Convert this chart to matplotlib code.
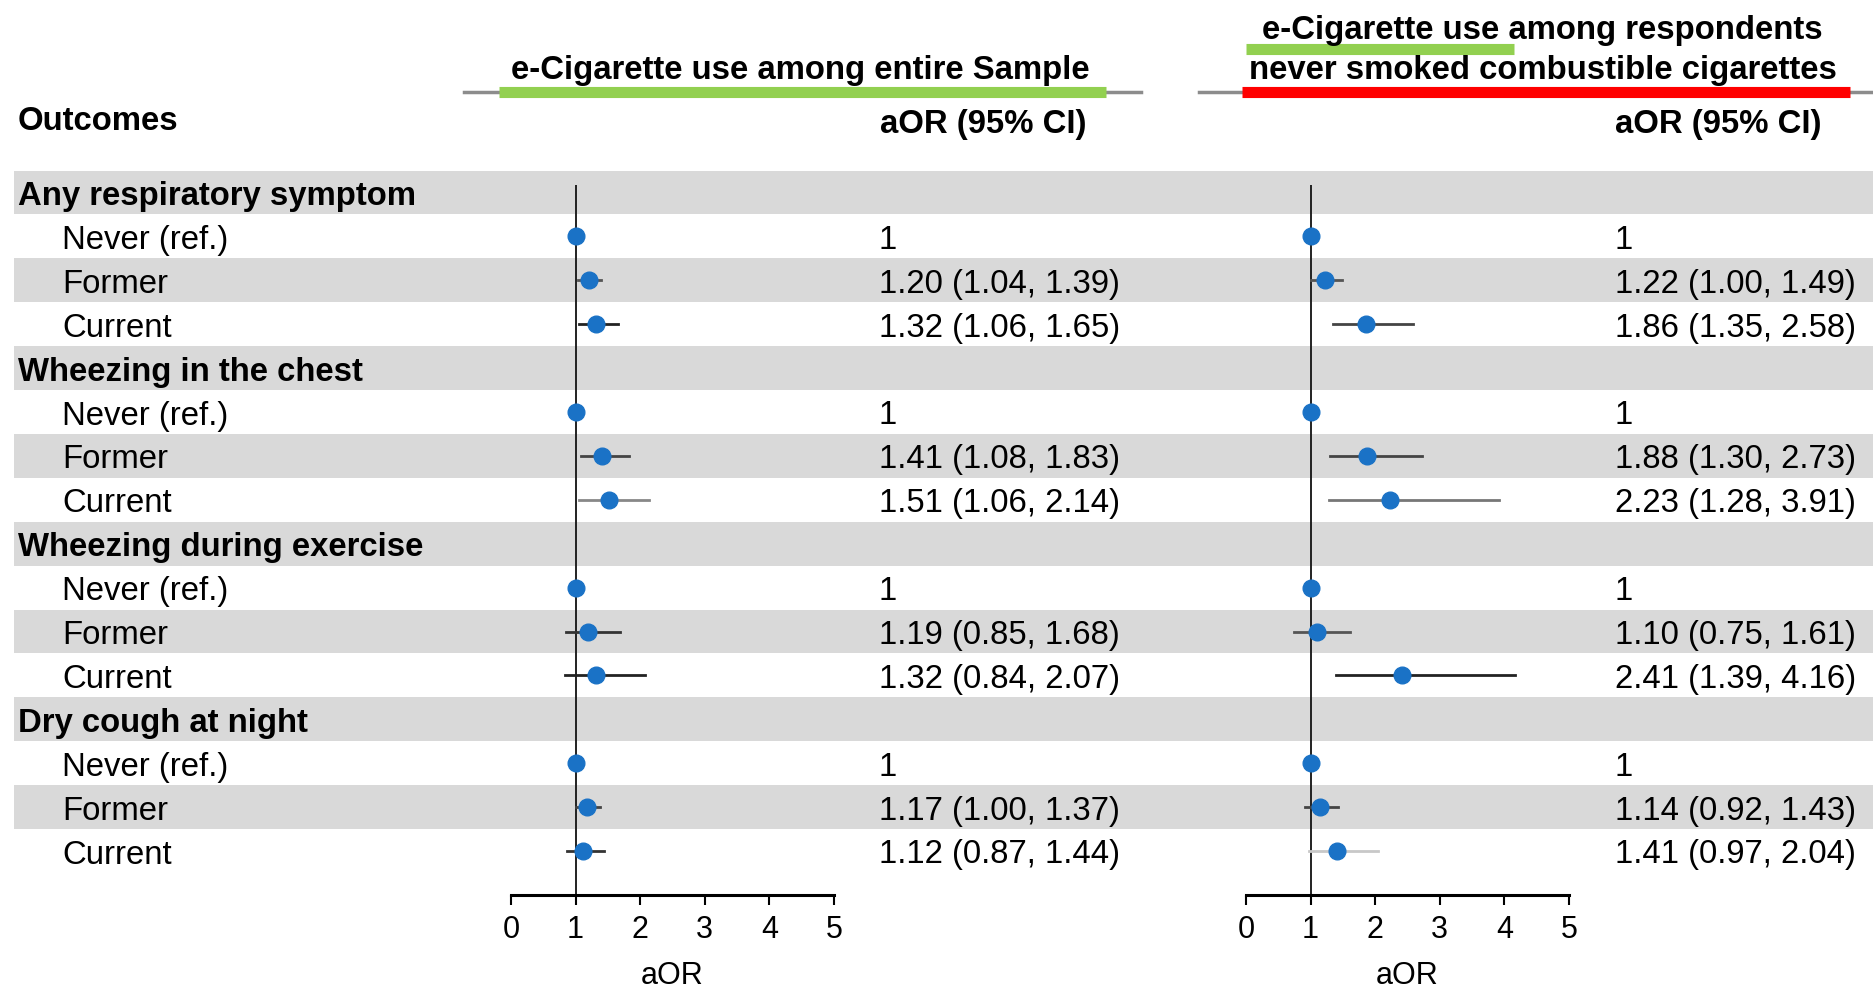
import numpy as np
import matplotlib.pyplot as plt

plt.rcParams['font.family'] = ['Liberation Sans', 'DejaVu Sans']

# ---- data ----
outcomes = ["Any respiratory symptom", "Wheezing in the chest",
            "Wheezing during exercise", "Dry cough at night"]
statuses = ["Never (ref.)", "Former", "Current"]

# e-cigarette use among entire sample (Never, Former, Current per outcome)
all_aor = [1, 1.20, 1.32, 1, 1.41, 1.51, 1, 1.19, 1.32, 1, 1.17, 1.12]
all_lo = [1, 1.04, 1.06, 1, 1.08, 1.06, 1, 0.85, 0.84, 1, 1.00, 0.87]
all_hi = [1, 1.39, 1.65, 1, 1.83, 2.14, 1, 1.68, 2.07, 1, 1.37, 1.44]

# among respondents who never smoked combustible cigarettes
nev_aor = [1, 1.22, 1.86, 1, 1.88, 2.23, 1, 1.10, 2.41, 1, 1.14, 1.41]
nev_lo = [1, 1.00, 1.35, 1, 1.30, 1.28, 1, 0.75, 1.39, 1, 0.92, 0.97]
nev_hi = [1, 1.49, 2.58, 1, 2.73, 3.91, 1, 1.61, 4.16, 1, 1.43, 2.04]

# CI whisker shades as they appear in the source
all_ci_col = ['#333', '#555', '#222', '#333', '#444', '#888', '#333', '#333', '#222', '#333', '#444', '#333']
nev_ci_col = ['#333', '#555', '#444', '#333', '#444', '#777', '#333', '#555', '#222', '#333', '#444', '#c8c8c8']

ticks = [0, 1, 2, 3, 4, 5]

W, H = 1873, 987
FS = 23.7
BLUE = '#1a72c6'
BAND = '#d9d9d9'
ROW0, STEP = 193.5, 43.9
TXT_DY = 3  # text sits a touch below the band centre

fig = plt.figure(figsize=(W / 100, H / 100), dpi=100)
bg = fig.add_axes([0, 0, 1, 1])
bg.set_xlim(0, W)
bg.set_ylim(H, 0)
bg.axis('off')

# build row list: header row then three status rows
labels, is_head = [], []
for o in outcomes:
    labels.append(o)
    is_head.append(True)
    for s in statuses:
        labels.append(s)
        is_head.append(False)
n_rows = len(labels)
row_y = ROW0 + STEP * np.arange(n_rows)

# shaded bands on even rows
shade = np.arange(n_rows) % 2 == 0
bg.barh(row_y[shade], W - 14, left=14, height=STEP, color=BAND, zorder=0)

for y, lab, hd in zip(row_y, labels, is_head):
    if hd:
        bg.text(18, y + TXT_DY, lab, fontsize=FS, fontweight='bold', va='center')
    else:
        bg.text(62, y + TXT_DY, lab, fontsize=FS, va='center')

# column headers
bg.text(18, 122, "Outcomes", fontsize=FS, fontweight='bold', va='center')
bg.text(800, 71, "e-Cigarette use among entire Sample", fontsize=FS,
        fontweight='bold', ha='center', va='center')
bg.text(1542, 30, "e-Cigarette use among respondents", fontsize=FS,
        fontweight='bold', ha='center', va='center')
bg.text(1543, 71, "never smoked combustible cigarettes", fontsize=FS,
        fontweight='bold', ha='center', va='center')
bg.text(1087, 124, "aOR (95% CI)", fontsize=FS, fontweight='bold', ha='right', va='center')
bg.text(1822, 124, "aOR (95% CI)", fontsize=FS, fontweight='bold', ha='right', va='center')

# rules under the headers and the coloured highlight marks
bg.plot([464, 1141], [93, 93], color='#8c8c8c', lw=2.5, zorder=1)
bg.plot([1199, W], [93, 93], color='#8c8c8c', lw=2.5, zorder=1)
bg.plot([499, 1106], [93, 93], color='#92d050', lw=8, solid_capstyle='butt', zorder=2)
bg.plot([1242, 1850], [93, 93], color='#ff0000', lw=8, solid_capstyle='butt', zorder=2)
bg.plot([1246, 1514], [50, 50], color='#92d050', lw=8, solid_capstyle='butt', zorder=2)


def fmt(v, lo, hi):
    if v == 1 and lo == 1 and hi == 1:
        return "1"
    return f"{v:.2f} ({lo:.2f}, {hi:.2f})"


def forest(x0, aor, lo, hi, cols, text_x):
    ax_top, ax_bot = 186, 896
    ax = fig.add_axes([x0 / W, (H - ax_bot) / H, 323 / W, (ax_bot - ax_top) / H])
    ax.patch.set_alpha(0)
    ax.set_xlim(0, 5)
    ax.set_ylim((ax_bot - ROW0) / STEP, (ax_top - ROW0) / STEP)
    for s in ['top', 'left', 'right']:
        ax.spines[s].set_visible(False)
    ax.spines['bottom'].set_linewidth(2.2)
    ax.set_yticks([])
    ax.set_xticks(ticks)
    ax.tick_params(axis='x', length=7, width=1.5, labelsize=22, pad=7)
    ax.set_xlabel("aOR", fontsize=22, labelpad=11)
    ax.axvline(1, color='#222', lw=1.4, zorder=1)

    idx = [i for i in range(n_rows) if not is_head[i]]
    for k, i in enumerate(idx):
        ax.plot([lo[k], hi[k]], [i, i], color=cols[k], lw=2, zorder=2)
    ax.plot(aor, idx, 'o', color=BLUE, ms=12, mec=BLUE, zorder=3, clip_on=False)

    for k, i in enumerate(idx):
        bg.text(text_x, row_y[i] + TXT_DY, fmt(aor[k], lo[k], hi[k]), fontsize=FS, va='center')
    return ax


forest(511, all_aor, all_lo, all_hi, all_ci_col, 879)
forest(1246, nev_aor, nev_lo, nev_hi, nev_ci_col, 1615)

fig.savefig('out.png', dpi=100)
